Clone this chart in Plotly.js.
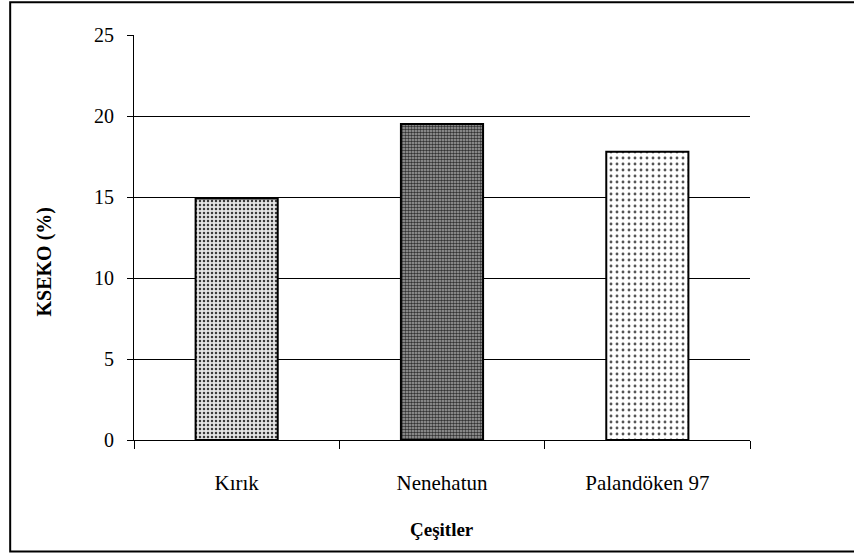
<!DOCTYPE html>
<html>
<head>
<meta charset="utf-8">
<script src="https://cdn.plot.ly/plotly-3.0.1.min.js"></script>
<style>
  html, body { margin: 0; padding: 0; background: #fff; }
  #chart { width: 854px; height: 560px; }
</style>
</head>
<body>
<div id="chart"></div>
<script>
// Cultivars and their KSEKO values (%)
const cultivars = ['Kırık', 'Nenehatun', 'Palandöken 97'];
const ksekoValues = [14.9, 19.5, 17.8];
const yTickValues = [0, 5, 10, 15, 20, 25];

// One hatch pattern per cultivar
const patterns = [
  { shape: '.', fgcolor: '#3a3a3a', bgcolor: '#e4e4e4', size: 4, solidity: 0.3 },
  { shape: '.', fgcolor: '#333', bgcolor: '#a8a8a8', size: 3, solidity: 0.55 },
  { shape: '.', fgcolor: '#555', bgcolor: '#ffffff', size: 6, solidity: 0.18 }
];

const serif = 'Times New Roman';

const trace = {
  type: 'bar',
  x: cultivars,
  y: ksekoValues,
  width: 0.4,
  marker: {
    color: '#ffffff',
    line: { color: '#000', width: 2 },
    pattern: {
      shape: patterns.map(p => p.shape),
      fgcolor: patterns.map(p => p.fgcolor),
      bgcolor: patterns.map(p => p.bgcolor),
      size: patterns.map(p => p.size),
      solidity: patterns.map(p => p.solidity),
      fillmode: 'replace'
    }
  },
  hoverinfo: 'x+y'
};

const layout = {
  width: 854,
  height: 560,
  margin: { l: 134, r: 104, t: 35, b: 120 },
  paper_bgcolor: '#ffffff',
  plot_bgcolor: '#ffffff',
  showlegend: false,
  font: { family: serif, size: 20, color: '#000' },
  xaxis: {
    type: 'category',
    tickson: 'boundaries',
    ticks: 'outside',
    ticklen: 8,
    tickcolor: '#000',
    tickwidth: 1,
    showline: true,
    linecolor: '#000',
    linewidth: 1,
    showgrid: false,
    ticklabelstandoff: 24,
    tickfont: { family: serif, size: 21, color: '#000' }
  },
  yaxis: {
    range: [0, 25],
    tickvals: yTickValues,
    ticks: 'outside',
    ticklen: 6,
    tickcolor: '#000',
    tickwidth: 1,
    showline: true,
    linecolor: '#000',
    linewidth: 1,
    showgrid: true,
    gridcolor: '#000',
    gridwidth: 1,
    zeroline: false,
    ticklabelstandoff: 9,
    tickfont: { family: serif, size: 20, color: '#000' }
  },
  annotations: [
    {
      text: '<b>Çeşitler</b>',
      xref: 'paper', yref: 'paper',
      x: 0.5, y: -0.222,
      xanchor: 'center', yanchor: 'middle',
      showarrow: false,
      font: { family: serif, size: 19, color: '#000' }
    },
    {
      text: '<b>KSEKO (%)</b>',
      xref: 'paper', yref: 'paper',
      x: -0.145, y: 0.44,
      xanchor: 'center', yanchor: 'middle',
      textangle: -90,
      showarrow: false,
      font: { family: serif, size: 20, color: '#000' }
    }
  ],
  shapes: [
    // chart frame (right edge runs off the page)
    {
      type: 'rect', xref: 'paper', yref: 'paper',
      x0: -0.201, x1: 1.4, y0: -0.275, y1: 1.081,
      line: { color: '#000', width: 2 },
      fillcolor: 'rgba(0,0,0,0)',
      layer: 'below'
    }
  ]
};

Plotly.newPlot('chart', [trace], layout, { displayModeBar: false });
</script>
</body>
</html>
